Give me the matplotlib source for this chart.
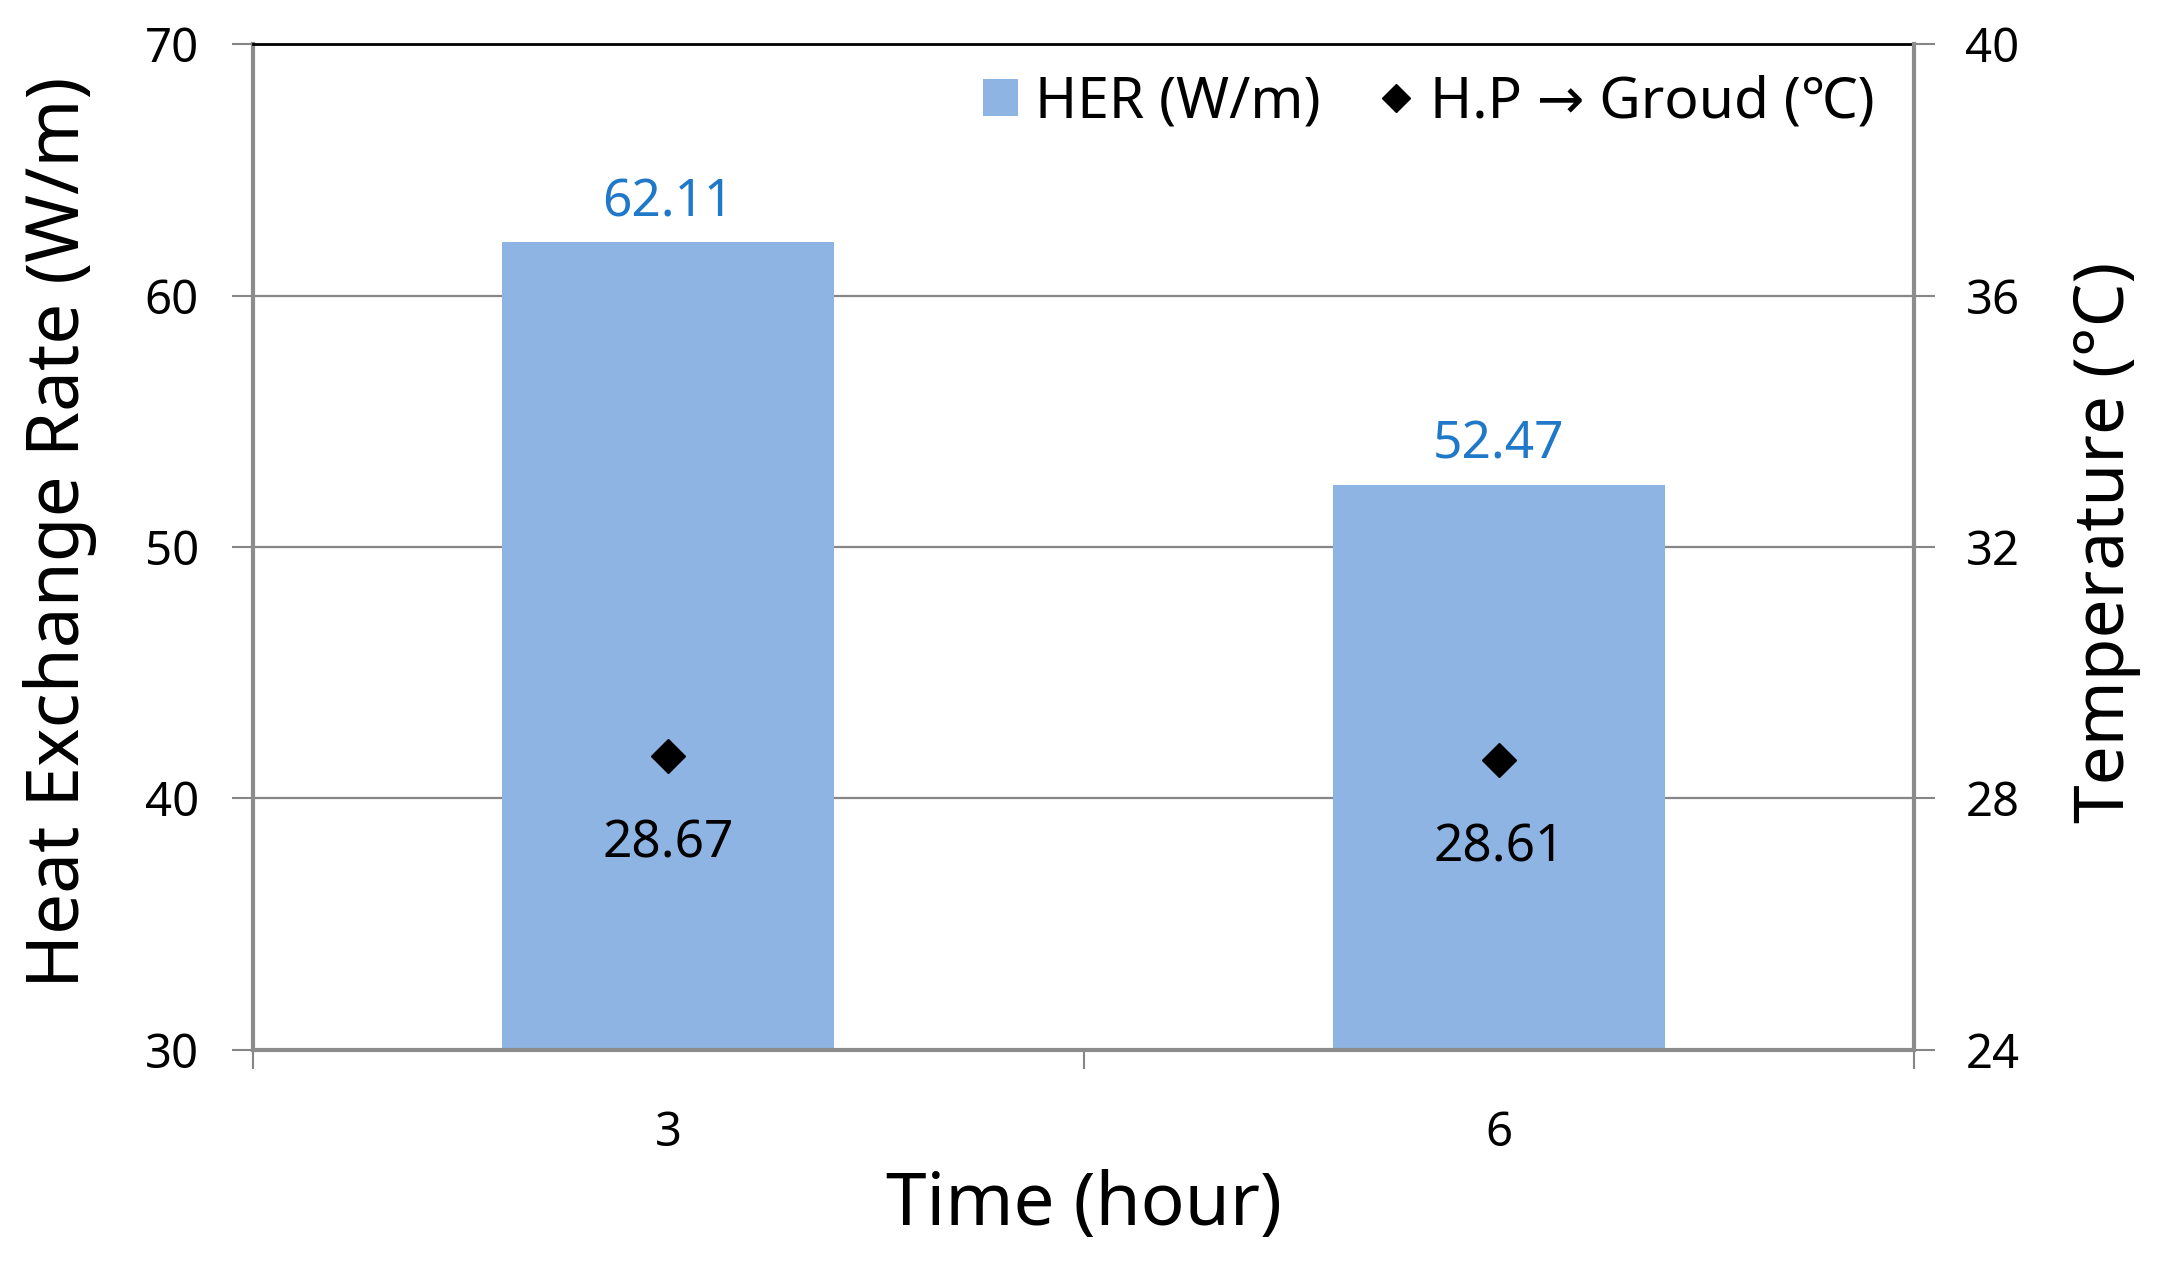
import matplotlib
matplotlib.use("Agg")
import matplotlib.pyplot as plt
from matplotlib.patches import Patch
from matplotlib.lines import Line2D

plt.rcParams["font.family"] = ["Noto Sans", "DejaVu Sans"]

hours = ["3", "6"]
her = [62.11, 52.47]
temp = [28.67, 28.61]

bar_color = "#8DB4E2"
label_blue = "#1F78C8"
grid_gray = "#868686"
x = list(range(len(hours)))

fig = plt.figure(figsize=(21.66, 12.65), dpi=100)
ax = fig.add_axes([0.1168, 0.170, 0.7669, 0.7952])
ax2 = ax.twinx()

ax.bar(x, her, width=0.4, color=bar_color, zorder=2)
for xi, v in zip(x, her):
    ax.annotate(f"{v:.2f}", (xi, v), xytext=(0, 19), textcoords="offset points",
                ha="center", va="baseline", fontsize=37, color=label_blue)

ax2.plot(x, temp, linestyle="none", marker="D", markersize=17, color="black", zorder=3)
for xi, v in zip(x, temp):
    ax2.annotate(f"{v:.2f}", (xi, v), xytext=(0, -73), textcoords="offset points",
                 ha="center", va="baseline", fontsize=37, color="black")

ax.set_xlim(-0.5, 1.5)
ax.set_ylim(30, 70)
ax.set_yticks([30, 40, 50, 60, 70])
ax2.set_ylim(24, 40)
ax2.set_yticks([24, 28, 32, 36, 40])

ax.set_axisbelow(True)
ax.yaxis.grid(True, color=grid_gray, linewidth=1.6)

ax.set_xticks(x)
ax.set_xticklabels(hours)
ax.set_xticks([-0.5, 0.5, 1.5], minor=True)
ax.tick_params(axis="x", which="major", length=0, pad=43, labelsize=34)
ax.tick_params(axis="x", which="minor", length=14, width=1.5, color=grid_gray, direction="out")
ax.tick_params(axis="y", length=15, width=1.5, color=grid_gray, pad=24, labelsize=34)
ax2.tick_params(axis="y", length=15, width=1.5, color=grid_gray, pad=22, labelsize=34)

for a in (ax, ax2):
    for s in a.spines.values():
        s.set_visible(False)
ax.spines["left"].set_visible(True)
ax.spines["left"].set_color("#8C8C8C")
ax.spines["left"].set_linewidth(3)
ax.spines["bottom"].set_visible(True)
ax.spines["bottom"].set_color("#8C8C8C")
ax.spines["bottom"].set_linewidth(3)
ax.spines["top"].set_visible(True)
ax.spines["top"].set_color("black")
ax.spines["top"].set_linewidth(2)
ax2.spines["right"].set_visible(True)
ax2.spines["right"].set_color("#8C8C8C")
ax2.spines["right"].set_linewidth(3)

fig.text(60 / 2166, 0.579, "Heat Exchange Rate (W/m)", rotation=90,
         ha="center", va="center", fontsize=52.5)
fig.text(2106 / 2166, 0.571, "Temperature (°C)", rotation=90,
         ha="center", va="center", fontsize=50)
fig.text(1084 / 2166, 0.0466, "Time (hour)", ha="center", va="center", fontsize=52.5)

handles = [
    Patch(facecolor=bar_color, edgecolor="none", label="HER (W/m)"),
    Line2D([], [], linestyle="none", marker="D", markersize=14, color="black",
           label="H.P → Groud (℃)"),
]
ax2.legend(handles=handles, ncol=2, frameon=False, fontsize=41,
           loc="center right", bbox_to_anchor=(1875 / 2166, 1 - 103 / 1265),
           bbox_transform=fig.transFigure, borderpad=0, borderaxespad=0,
           handlelength=0.62, handleheight=0.62, handletextpad=0.3,
           columnspacing=1.0)

fig.savefig("out.png", dpi=100)
